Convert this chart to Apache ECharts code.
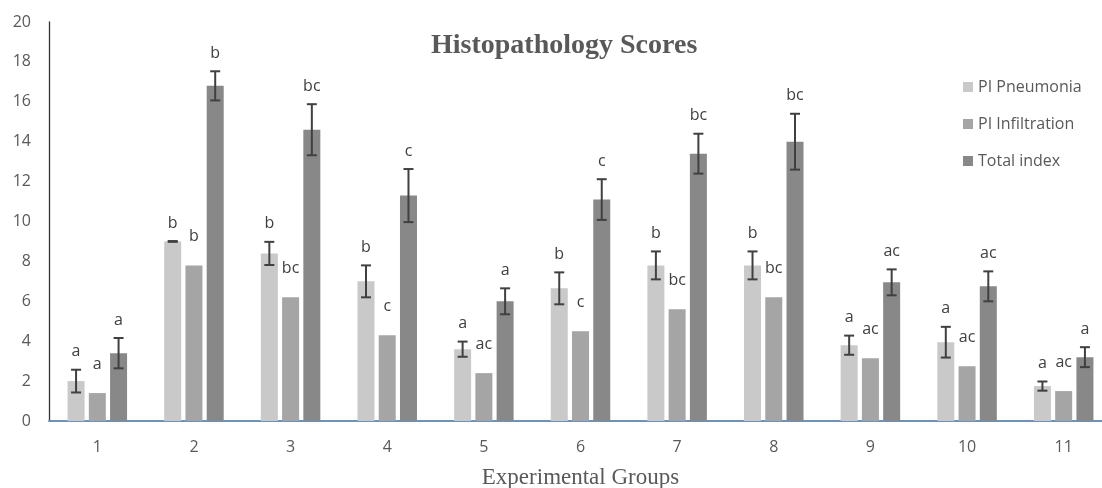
<!DOCTYPE html>
<html>
<head>
<meta charset="utf-8">
<script src="https://cdn.jsdelivr.net/npm/echarts@6/dist/echarts.min.js"></script>
<style>
html,body{margin:0;padding:0;background:#fff;}
#chart{width:1102px;height:488px;}
</style>
</head>
<body>
<div id="chart"></div>
<script>
var categories = ['1','2','3','4','5','6','7','8','9','10','11'];
var seriesNames = ['PI Pneumonia','PI Infiltration','Total index'];
var pneumonia = [2.0, 9.0, 8.4, 7.0, 3.6, 6.65, 7.8, 7.8, 3.8, 3.95, 1.75];
var pneumoniaErr = [0.57, 0.02, 0.58, 0.8, 0.38, 0.8, 0.7, 0.7, 0.48, 0.77, 0.23];
var infiltration = [1.4, 7.8, 6.2, 4.3, 2.4, 4.5, 5.6, 6.2, 3.15, 2.75, 1.5];
var total = [3.4, 16.8, 14.6, 11.3, 6.0, 11.1, 13.4, 14.0, 6.95, 6.75, 3.2];
var totalErr = [0.76, 0.73, 1.28, 1.33, 0.65, 1.02, 1.0, 1.4, 0.65, 0.75, 0.5];
var pneumoniaLetters = ['a','b','b','b','a','b','b','b','a','a','a'];
var infiltrationLetters = ['a','b','bc','c','ac','c','bc','bc','ac','ac','ac'];
var totalLetters = ['a','b','bc','c','a','c','bc','bc','ac','ac','a'];
var yTicks = {min: 0, max: 20, interval: 2};

var colors = ['#c9c9c9', '#a5a5a5', '#888888'];
var BAR_W = 17, BAR_GAP = 0.25;

var values = [pneumonia, infiltration, total];
var errs = [pneumoniaErr, null, totalErr];
var letters = [pneumoniaLetters, infiltrationLetters, totalLetters];

var records = [];
for (var s = 0; s < 3; s++) {
  for (var i = 0; i < categories.length; i++) {
    records.push({cat: i, s: s, v: values[s][i], e: errs[s] ? errs[s][i] : 0, t: letters[s][i]});
  }
}

function renderAnno(params, api) {
  var r = records[params.dataIndex];
  var step = BAR_W * (1 + BAR_GAP);
  var base = api.coord([r.cat, r.v]);
  var x = base[0] + (r.s - 1) * step;
  var children = [];
  var labelY;
  var st = {stroke: '#404040', lineWidth: 2};
  if (r.e > 0) {
    var top = api.coord([r.cat, r.v + r.e])[1];
    var bot = api.coord([r.cat, r.v - r.e])[1];
    children.push({type: 'line', shape: {x1: x, y1: top, x2: x, y2: bot}, style: st});
    children.push({type: 'line', shape: {x1: x - 5, y1: top, x2: x + 5, y2: top}, style: st});
    children.push({type: 'line', shape: {x1: x - 5, y1: bot, x2: x + 5, y2: bot}, style: st});
    labelY = top - 18;
  } else {
    labelY = base[1] - 29;
  }
  children.push({
    type: 'text',
    style: {
      x: x, y: labelY, text: r.t,
      textAlign: 'center', textVerticalAlign: 'middle',
      fontFamily: 'Open Sans', fontSize: 16, fill: '#404040'
    }
  });
  return {type: 'group', children: children};
}

var chart = echarts.init(document.getElementById('chart'));
var barSeries = seriesNames.map(function (name, s) {
  return {
    name: name,
    type: 'bar',
    data: values[s],
    barWidth: BAR_W,
    barGap: (BAR_GAP * 100) + '%',
    itemStyle: {color: colors[s]},
    emphasis: {disabled: true},
    z: 2
  };
});
barSeries.push({
  type: 'custom',
  renderItem: renderAnno,
  data: records.map(function (r) { return [r.cat, r.v]; }),
  encode: {x: 0, y: 1},
  z: 5,
  silent: true
});

chart.setOption({
  animation: false,
  backgroundColor: '#ffffff',
  textStyle: {fontFamily: 'Open Sans'},
  title: {
    text: 'Histopathology Scores',
    left: 426, top: 27,
    textStyle: {fontFamily: 'Liberation Serif', fontWeight: 'bold', fontSize: 28, color: '#595959'}
  },
  legend: {
    orient: 'vertical',
    left: 958, top: 74,
    itemWidth: 10, itemHeight: 10, itemGap: 21,
    icon: 'rect',
    data: seriesNames,
    textStyle: {fontFamily: 'Open Sans', fontSize: 16, color: '#595959', lineHeight: 16}
  },
  grid: {left: 49, top: 22, width: 1063, height: 399, containLabel: false, outerBoundsMode: 'none'},
  xAxis: {
    type: 'category',
    data: categories,
    name: 'Experimental Groups',
    nameLocation: 'middle',
    nameGap: 45,
    nameTextStyle: {fontFamily: 'Liberation Serif', fontSize: 23, color: '#595959'},
    axisLine: {lineStyle: {color: '#6d93b8', width: 2}},
    axisTick: {show: false},
    axisLabel: {fontSize: 16, color: '#595959', margin: 18}
  },
  yAxis: {
    type: 'value',
    min: yTicks.min, max: yTicks.max, interval: yTicks.interval,
    axisLine: {show: true, lineStyle: {color: '#333333', width: 1.3}},
    axisTick: {show: false},
    splitLine: {show: false},
    axisLabel: {fontSize: 16, color: '#595959', margin: 18}
  },
  series: barSeries
});
</script>
</body>
</html>
